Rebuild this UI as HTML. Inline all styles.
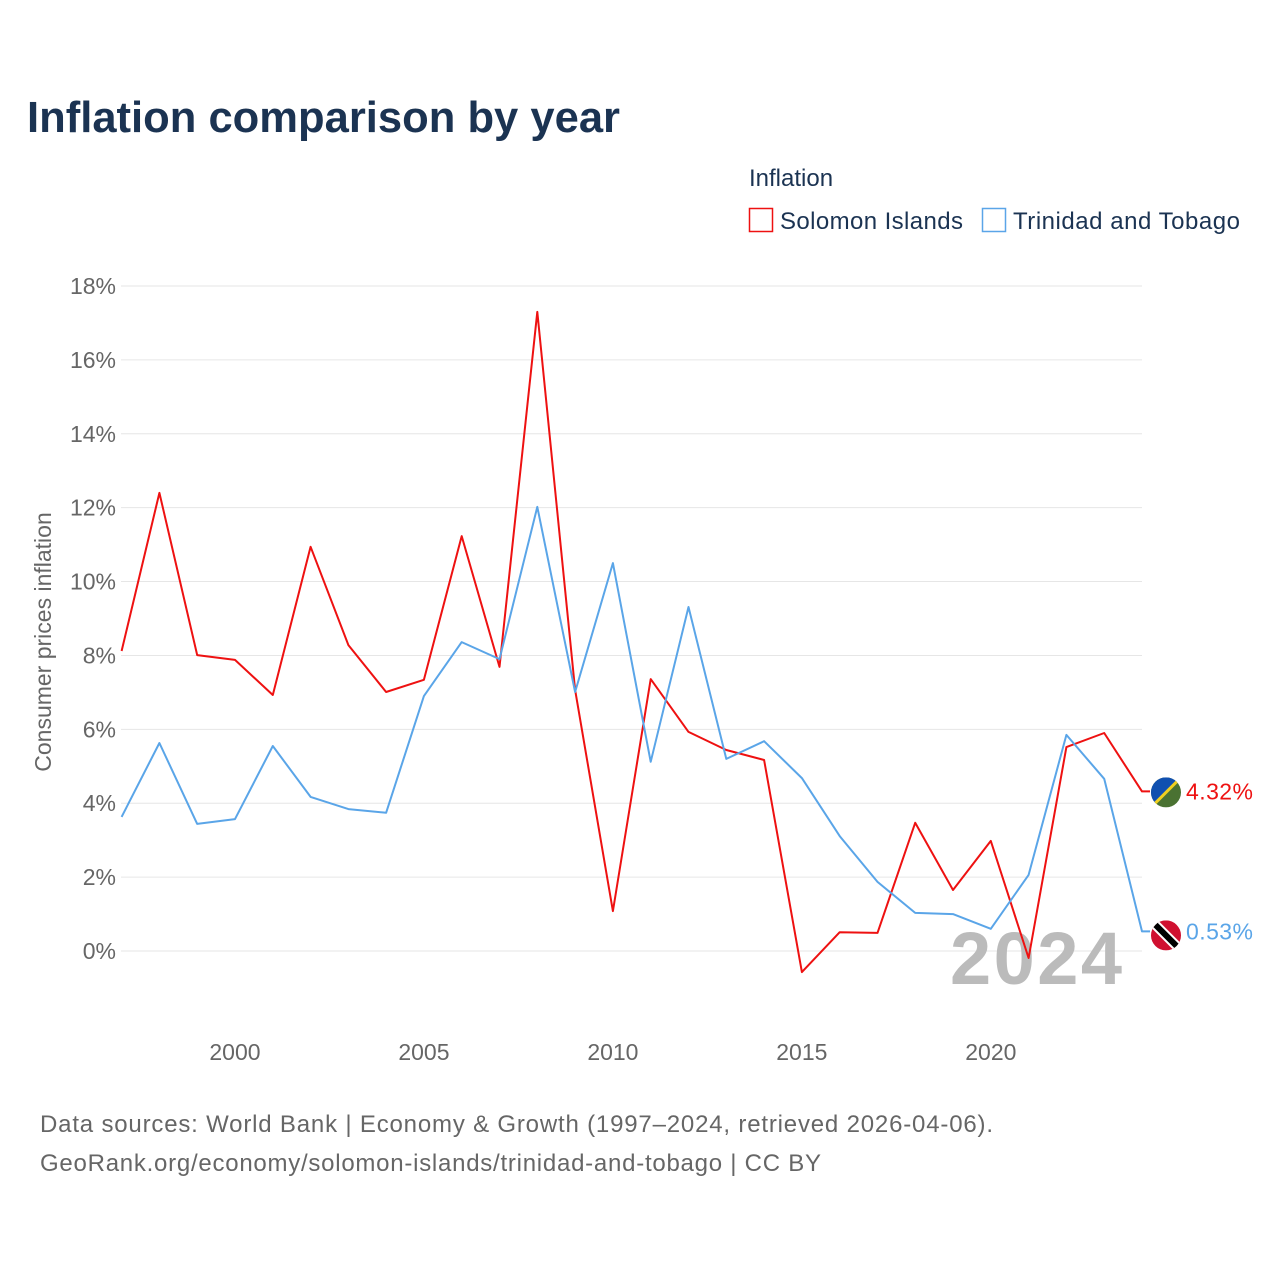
<!DOCTYPE html>
<html><head><meta charset="utf-8">
<style>
body{margin:0;background:#fff;}
svg text{font-family:"Liberation Sans",sans-serif;}
</style></head>
<body>
<svg id="chart" width="1280" height="1280" viewBox="0 0 1280 1280" xmlns="http://www.w3.org/2000/svg">
<rect width="1280" height="1280" fill="#fff"/>
<text x="27" y="132" font-size="44" font-weight="bold" fill="#1b3352" textLength="593" lengthAdjust="spacingAndGlyphs">Inflation comparison by year</text>
<text x="749" y="186" font-size="24" fill="#1b3352">Inflation</text>
<g>
<rect x="749.5" y="208.5" width="23" height="23" fill="none" stroke="#ee1111" stroke-width="1.5"/>
<text x="780" y="229" font-size="24" fill="#1b3352" textLength="183">Solomon Islands</text></g>
<g>
<rect x="982.5" y="208.5" width="23" height="23" fill="none" stroke="#5aa5e8" stroke-width="1.5"/>
<text x="1013" y="229" font-size="24" fill="#1b3352" textLength="227">Trinidad and Tobago</text></g>
<text transform="translate(51,642) rotate(-90)" text-anchor="middle" font-size="23" fill="#666">Consumer prices inflation</text>
<g id="grid"></g><g id="xticks"></g>
<text x="1122" y="984" text-anchor="end" font-size="74" font-weight="bold" fill="#bbb" textLength="172">2024</text>
<g id="series"></g>
<text x="40" y="1132" font-size="24" fill="#666" textLength="953">Data sources: World Bank | Economy &amp; Growth (1997–2024, retrieved 2026-04-06).</text>
<text x="40" y="1171" font-size="24" fill="#666" textLength="781">GeoRank.org/economy/solomon-islands/trinidad-and-tobago | CC BY</text>
</svg>
<script>
const years = [1997,1998,1999,2000,2001,2002,2003,2004,2005,2006,2007,2008,2009,2010,2011,2012,2013,2014,2015,2016,2017,2018,2019,2020,2021,2022,2023,2024];
const solomon = [8.12,12.40,8.01,7.88,6.93,10.94,8.28,7.01,7.34,11.23,7.69,17.30,7.07,1.08,7.36,5.93,5.44,5.17,-0.57,0.51,0.49,3.47,1.65,2.98,-0.19,5.52,5.90,4.32];
const trinidad = [3.63,5.63,3.44,3.57,5.55,4.17,3.84,3.74,6.90,8.36,7.90,12.02,7.01,10.50,5.12,9.31,5.20,5.68,4.68,3.11,1.87,1.03,1.00,0.60,2.06,5.85,4.66,0.53];
const yTicks = [0,2,4,6,8,10,12,14,16,18];
const xTicks = [2000,2005,2010,2015,2020];
const NS="http://www.w3.org/2000/svg";
const X = y => 121.6 + (y-1997)*(1142-121.6)/27;
const Y = v => 951 - v*(951-286)/18;
function mk(t,a,p){const e=document.createElementNS(NS,t);for(const k in a)e.setAttribute(k,a[k]);p.appendChild(e);return e;}
const grid=document.getElementById('grid');
yTicks.forEach(v=>{
  const l=mk('line',{x1:121,x2:1142,y1:Y(v),y2:Y(v),stroke:'#e6e6e6','stroke-width':1},grid);
  
  
  const t=mk('text',{x:116,y:Y(v)+8,'text-anchor':'end','font-size':23,fill:'#666'},grid);
  t.textContent=v+'%';
  
  
});
const xt=document.getElementById('xticks');
xTicks.forEach(v=>{
  const t=mk('text',{x:X(v),y:1060,'text-anchor':'middle','font-size':23,fill:'#666'},xt);
  t.textContent=v;
  
  
});
const sg=document.getElementById('series');
function series(data,color,name){
  let d=data.map((v,i)=>(i?'L':'M')+X(years[i]).toFixed(1)+' '+Y(v).toFixed(1)).join(' ');
  const last=data[data.length-1];
  d+=' L1150 '+Y(last).toFixed(1);
  const p=mk('path',{d:d,fill:'none',stroke:color,'stroke-width':2,'stroke-linejoin':'round'},sg);
  
  
  const t=mk('text',{x:1186,y:Y(last)+8,'font-size':23,fill:color,textLength:67},sg);
  t.textContent=last.toFixed(2)+'%';
  
  
  return Y(last);
}
const ys=series(solomon,'#ee1111','solomon');
const yt=series(trinidad,'#5aa5e8','trinidad');
const f1=mk('g',{},sg);


const cp1=mk('clipPath',{id:'c1'},f1);mk('circle',{cx:1166,cy:ys+1,r:15},cp1);
const g1=mk('g',{'clip-path':'url(#c1)'},f1);
mk('rect',{x:1151,y:ys-14,width:30,height:30,fill:'#4a7232'},g1);
mk('polygon',{points:`1151,${ys-14} 1181,${ys-14} 1151,${ys+16}`,fill:'#1050b0'},g1);
mk('line',{x1:1181,y1:ys-14,x2:1151,y2:ys+16,stroke:'#f0d020','stroke-width':3},g1);
const f2=mk('g',{},sg);


const cp2=mk('clipPath',{id:'c2'},f2);mk('circle',{cx:1166,cy:yt+4,r:15},cp2);
const g2=mk('g',{'clip-path':'url(#c2)'},f2);
mk('rect',{x:1151,y:yt-11,width:30,height:30,fill:'#d01030'},g2);
mk('line',{x1:1151,y1:yt-11,x2:1181,y2:yt+19,stroke:'#fff','stroke-width':10},g2);
mk('line',{x1:1151,y1:yt-11,x2:1181,y2:yt+19,stroke:'#000','stroke-width':6},g2);
</script>
</body></html>
